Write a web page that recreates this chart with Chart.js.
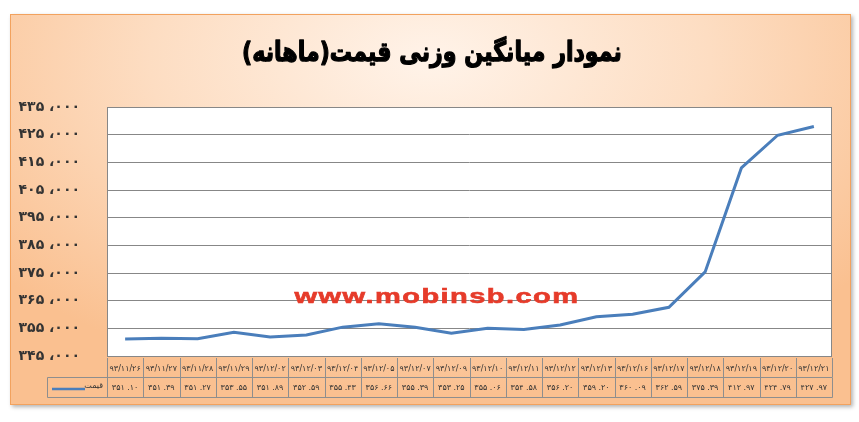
<!DOCTYPE html>
<html>
<head>
<meta charset="utf-8">
<script src="https://cdn.jsdelivr.net/npm/chart.js@4.4.0/dist/chart.umd.min.js"></script>
<style>
  html, body { margin: 0; background: #fff; }
  #wrap { width: 859px; height: 422px; }
</style>
</head>
<body>
<div id="wrap"><canvas id="chart" width="859" height="422"></canvas></div>
<script>
// data
const dates = [
  "93/11/26", "93/11/27", "93/11/28", "93/11/29", "93/12/02",
  "93/12/03", "93/12/04", "93/12/05", "93/12/07", "93/12/09",
  "93/12/10", "93/12/11", "93/12/12", "93/12/13", "93/12/16",
  "93/12/17", "93/12/18", "93/12/19", "93/12/20", "93/12/21",
];
const prices = [
  351100, 351390, 351270, 353550, 351890,
  352590, 355430, 356660, 355390, 353250,
  355060, 354580, 356200, 359200, 360090,
  362590, 375390, 412970, 424790, 427970,
];
const yMin = 345000;
const yMax = 435000;
const yStep = 10000;
const seriesName = "قیمت";
const chartTitle = "نمودار میانگین وزنی قیمت(ماهانه)";
const watermark = "www.mobinsb.com";

const FONT = "'DejaVu Sans', 'Noto Sans', sans-serif";

// latin digits -> persian digits
const fa = s => String(s).replace(/\d/g, d => "۰۱۲۳۴۵۶۷۸۹"[d]);

// background box, title, white plot area
const backgroundPlugin = {
  id: "background",
  beforeDraw(chart) {
    const { ctx, chartArea: a } = chart;
    const bx = 10, by = 14, bw = 841, bh = 391;
    ctx.save();
    ctx.fillStyle = "#fff";
    ctx.fillRect(0, 0, chart.width, chart.height);

    ctx.shadowColor = "rgba(0,0,0,0.3)";
    ctx.shadowBlur = 4;
    ctx.shadowOffsetX = 2;
    ctx.shadowOffsetY = 2;
    ctx.fillStyle = "#FAC090";
    ctx.fillRect(bx, by, bw, bh);
    ctx.shadowColor = "transparent";

    // soft light spot around the title
    ctx.save();
    ctx.beginPath();
    ctx.rect(bx, by, bw, bh);
    ctx.clip();
    ctx.translate(430, 60);
    ctx.scale(1, 0.6);
    const g = ctx.createRadialGradient(0, 0, 0, 0, 0, 560);
    g.addColorStop(0, "#FFF3E9");
    g.addColorStop(0.5, "#FDDDC2");
    g.addColorStop(1, "#FAC090");
    ctx.fillStyle = g;
    ctx.fillRect(-500, -200, 1000, 800);
    ctx.restore();

    ctx.strokeStyle = "#F2A25E";
    ctx.lineWidth = 1;
    ctx.strokeRect(bx + 0.5, by + 0.5, bw - 1, bh - 1);

    // title, condensed and heavy like the original
    ctx.save();
    ctx.fillStyle = "#000";
    ctx.strokeStyle = "#000";
    ctx.lineWidth = 1.3;
    ctx.lineJoin = "round";
    ctx.font = "bold 27px " + FONT;
    ctx.textAlign = "center";
    ctx.textBaseline = "middle";
    ctx.translate(432, 54);
    ctx.scale(0.82, 1);
    ctx.fillText(chartTitle, 0, 0);
    ctx.strokeText(chartTitle, 0, 0);
    ctx.restore();

    ctx.fillStyle = "#fff";
    ctx.fillRect(a.left, a.top, a.right - a.left, a.bottom - a.top);
    ctx.restore();
  },
  beforeDatasetsDraw(chart) {
    const { ctx, chartArea: a } = chart;
    ctx.save();
    ctx.strokeStyle = "#878787";
    ctx.lineWidth = 1;
    ctx.strokeRect(Math.round(a.left) + 0.5, Math.round(a.top) + 0.5,
      Math.round(a.right - a.left) - 1, Math.round(a.bottom - a.top));
    // watermark
    ctx.fillStyle = "#E63B2A";
    ctx.strokeStyle = "#E63B2A";
    ctx.lineWidth = 0.6;
    ctx.font = "bold 20px 'Liberation Sans', Arial, sans-serif";
    ctx.textAlign = "center";
    ctx.textBaseline = "middle";
    ctx.letterSpacing = "1px";
    ctx.translate(437, 297);
    ctx.scale(1.45, 1);
    ctx.fillText(watermark, 0, 0);
    ctx.strokeText(watermark, 0, 0);
    ctx.restore();
  },
};

// data table under the plot
const tablePlugin = {
  id: "dataTable",
  afterDraw(chart) {
    const { ctx, chartArea: a, scales: { x } } = chart;
    const half = (x.getPixelForValue(1) - x.getPixelForValue(0)) / 2;
    const r1 = Math.round(a.bottom) + 2;
    const r2 = r1 + 19;
    const r3 = r2 + 20;
    const legendLeft = 47;

    ctx.save();
    ctx.strokeStyle = "#8E8E8E";
    ctx.lineWidth = 1;
    ctx.fillStyle = "#333";
    ctx.textAlign = "center";
    ctx.textBaseline = "middle";
    ctx.font = "8px " + FONT;

    ctx.beginPath();
    ctx.rect(legendLeft + 0.5, r2 + 0.5, Math.round(a.right) - legendLeft, r3 - r2);
    dates.forEach((d, i) => {
      const l = Math.round(x.getPixelForValue(i) - half) + 0.5;
      ctx.moveTo(l, r1);
      ctx.lineTo(l, r3);
    });
    ctx.moveTo(Math.round(a.right) + 0.5, r1);
    ctx.lineTo(Math.round(a.right) + 0.5, r2);
    ctx.stroke();

    dates.forEach((d, i) => {
      const cx = x.getPixelForValue(i);
      ctx.fillText(fa(d), cx, (r1 + r2) / 2 + 1);
      ctx.fillText(fa((prices[i] / 1000).toFixed(2)).replace(".", " ."), cx, (r2 + r3) / 2 + 1);
    });

    // legend entry
    const my = (r2 + r3) / 2 + 2;
    ctx.strokeStyle = "#4A7EBB";
    ctx.lineWidth = 2.5;
    ctx.beginPath();
    ctx.moveTo(legendLeft + 5, my);
    ctx.lineTo(legendLeft + 38, my);
    ctx.stroke();
    ctx.textAlign = "right";
    ctx.font = "8px " + FONT;
    ctx.fillText(seriesName, Math.round(a.left) - 4, my - 3);
    ctx.restore();
  },
};

new Chart(document.getElementById("chart"), {
  type: "line",
  data: {
    labels: dates,
    datasets: [{
      label: seriesName,
      data: prices,
      borderColor: "#4A7EBB",
      borderWidth: 3,
      pointRadius: 0,
      tension: 0,
    }],
  },
  options: {
    responsive: false,
    animation: false,
    layout: { padding: { top: 107, left: 10, right: 27, bottom: 66 } },
    plugins: {
      legend: { display: false },
      tooltip: { enabled: false },
      title: { display: false },
    },
    scales: {
      x: {
        display: false,
        offset: true,
      },
      y: {
        min: yMin,
        max: yMax,
        afterFit: s => { s.width = 97; },
        ticks: {
          stepSize: yStep,
          padding: 27,
          color: "#333",
          font: { family: FONT, size: 14, weight: "bold" },
          callback: v => fa(Math.round(v / 1000)) + " ،" + fa("000"),
        },
        grid: { color: "#878787", drawTicks: false },
        border: { display: false },
      },
    },
  },
  plugins: [backgroundPlugin, tablePlugin],
});
</script>
</body>
</html>
